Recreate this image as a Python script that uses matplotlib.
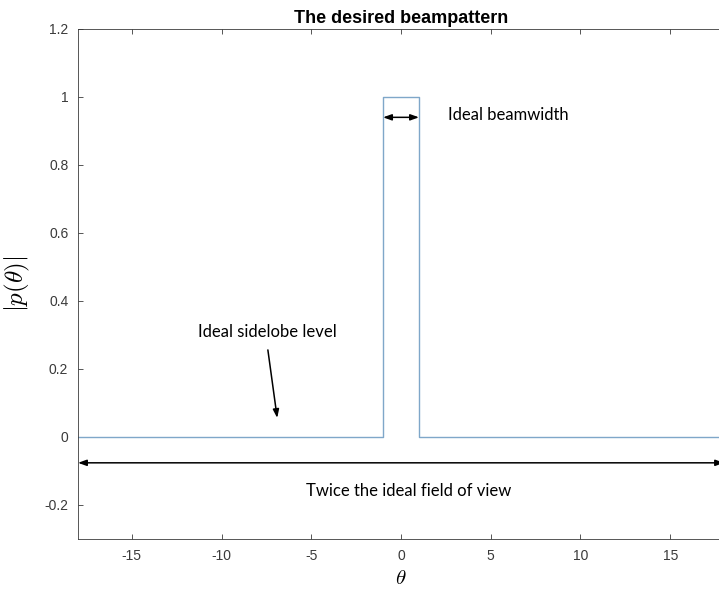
"""Ideal beampattern sketch (MATLAB-style look)."""
import matplotlib
matplotlib.use('Agg')
import matplotlib.pyplot as plt

plt.rcParams['mathtext.fontset'] = 'cm'

# rectangular beam: unit gain inside the beamwidth, zero outside
theta = [-18, -1, -1, 1, 1, 18]
p_abs = [0, 0, 1, 1, 0, 0]

xticks = [-15, -10, -5, 0, 5, 10, 15]
yticks = [-0.2, 0, 0.2, 0.4, 0.6, 0.8, 1, 1.2]
ytick_labels = ['-0.2', '0', '0.2', '0.4', '0.6', '0.8', '1', '1.2']

axis_grey = '#3a3a3a'
note_font = ['Lato', 'DejaVu Sans']

fig = plt.figure(figsize=(7.19, 5.89), dpi=100)
ax = fig.add_axes([0.1085, 0.0849, 0.8985, 0.866])

ax.plot(theta, p_abs, color='#7fa7c9', linewidth=1.0)

ax.set_xlim(-18, 18)
ax.set_ylim(-0.3, 1.2)
ax.set_xticks(xticks)
ax.set_xticklabels([str(t) for t in xticks])
ax.set_yticks(yticks)
ax.set_yticklabels(ytick_labels)

ax.tick_params(direction='in', length=3.8, width=0.6, colors=axis_grey,
               labelsize=10, top=True, right=True, pad=7)
for lbl in ax.get_xticklabels() + ax.get_yticklabels():
    lbl.set_family('Liberation Sans')
for s in ax.spines.values():
    s.set_color(axis_grey)
    s.set_linewidth(0.6)

ax.set_title('The desired beampattern', fontsize=13, fontweight='bold',
             family='Liberation Sans', pad=4)
ax.set_xlabel(r'$\theta$', fontsize=15, labelpad=4)
ax.set_ylabel(r'$|p(\theta)|$', fontsize=18, labelpad=9)

arrow_kw = dict(arrowstyle='<|-|>,head_length=0.5,head_width=0.18',
                color='black', lw=1.1, shrinkA=0, shrinkB=0)

# beamwidth
ax.annotate('', xy=(-1, 0.94), xytext=(1, 0.94), arrowprops=arrow_kw)
ax.text(2.62, 0.947, 'Ideal beamwidth', fontsize=12, family=note_font,
        va='center', ha='left')

# field of view
ax.annotate('', xy=(-18, -0.076), xytext=(18, -0.076), arrowprops=arrow_kw,
            annotation_clip=False)
ax.text(0.42, -0.159, 'Twice the ideal field of view', fontsize=12,
        family=note_font, va='center', ha='center')

# sidelobe level
ax.annotate('', xy=(-6.9, 0.056), xytext=(-7.42, 0.256),
            arrowprops=dict(arrowstyle='-|>,head_length=0.5,head_width=0.18',
                            color='black', lw=1.1, shrinkA=0, shrinkB=0))
ax.text(-7.47, 0.309, 'Ideal sidelobe level', fontsize=12, family=note_font,
        va='center', ha='center')

fig.savefig('out.png', dpi=100)
plt.close(fig)
